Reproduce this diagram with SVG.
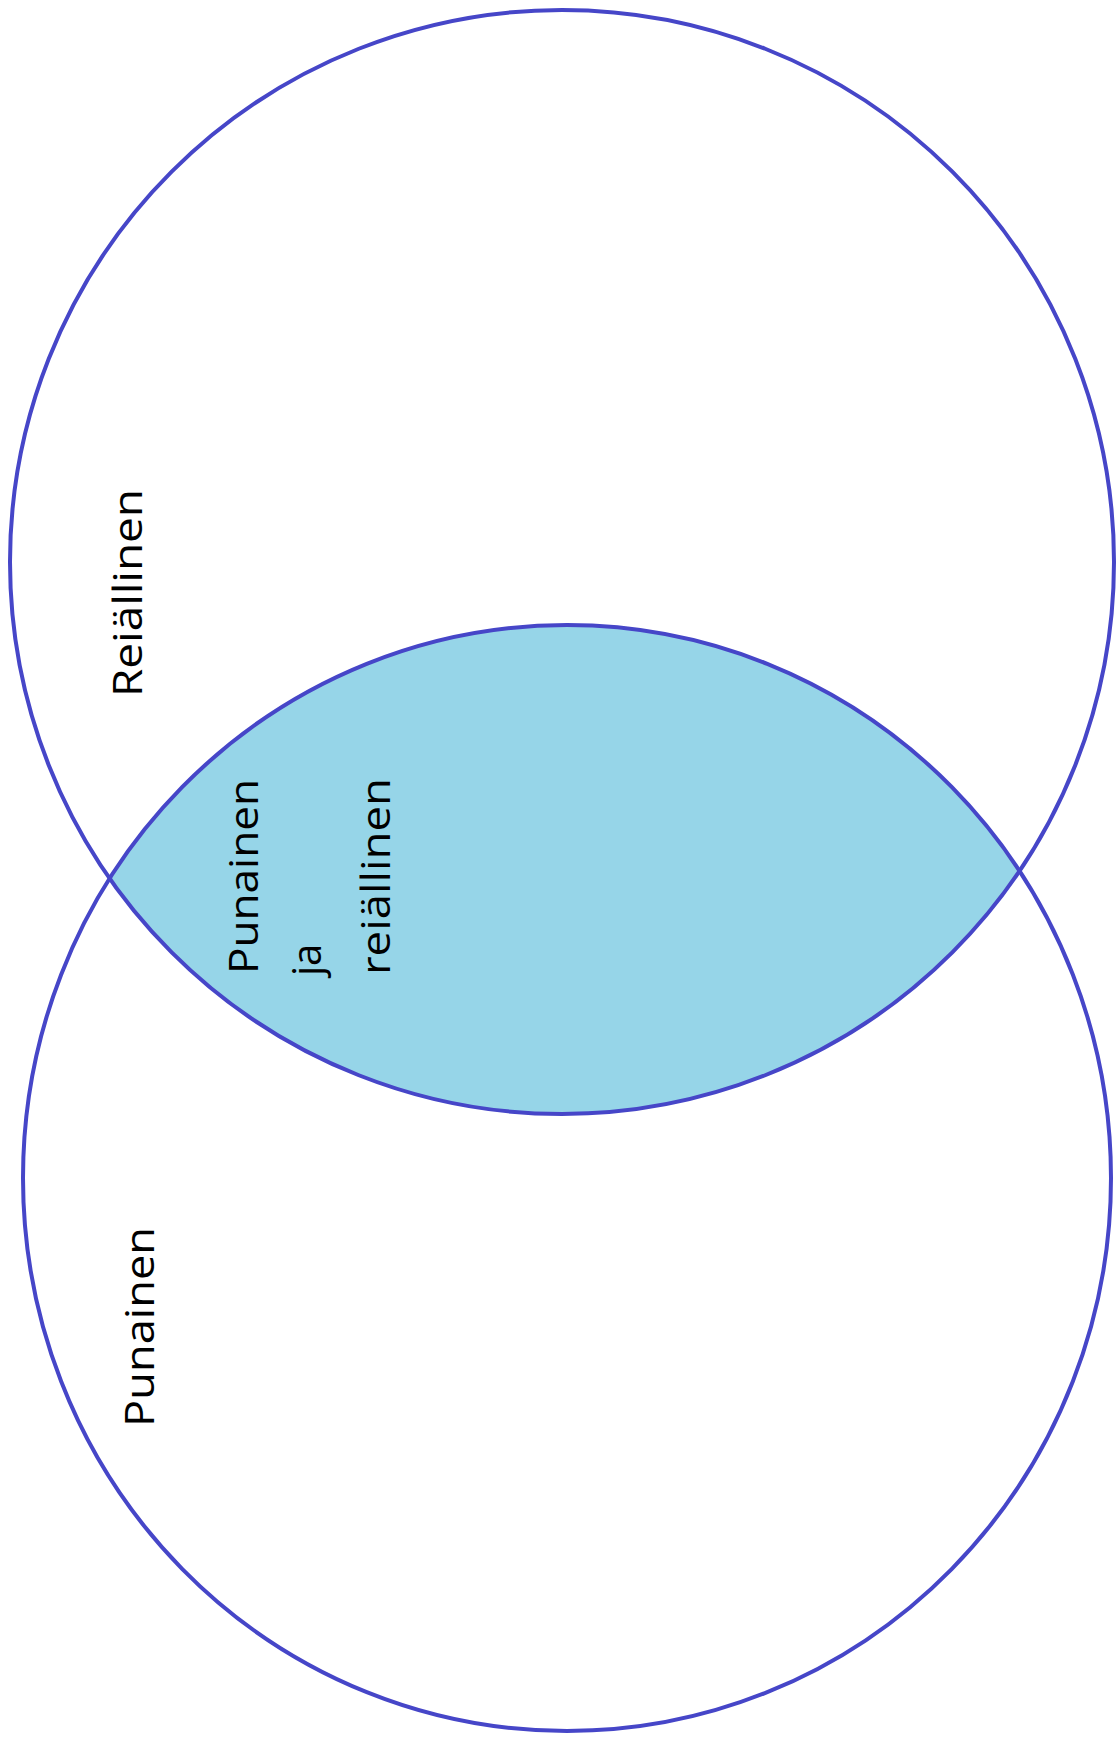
<svg xmlns="http://www.w3.org/2000/svg" width="1116" height="1742" viewBox="0 0 1116 1742">
<style>
.c{fill:none;stroke:#4646c8;stroke-width:4}
.t{font-family:"Open Sans","Liberation Sans",sans-serif;font-size:40px;fill:#000}
</style>
<defs>
<clipPath id="topClip"><circle cx="562" cy="562" r="552"/></clipPath>
</defs>
<rect width="1116" height="1742" fill="#fff"/>
<g id="lens">
<ellipse cx="567" cy="1178" rx="544" ry="553" fill="#96d5e8" clip-path="url(#topClip)"/>
</g>
<g id="circle-top">
<circle class="c" cx="562" cy="562" r="552"/>
<text class="t" transform="translate(142,697) rotate(-90)" textLength="208" lengthAdjust="spacingAndGlyphs">Reiällinen</text>
</g>
<g id="circle-bottom">
<ellipse class="c" cx="567" cy="1178" rx="544" ry="553"/>
<text class="t" transform="translate(154,1427) rotate(-90)" textLength="200" lengthAdjust="spacingAndGlyphs">Punainen</text>
</g>
<g id="intersection-label">
<text class="t" transform="translate(258,974) rotate(-90)" textLength="195" lengthAdjust="spacingAndGlyphs">Punainen</text>
<text class="t" transform="translate(321,976) rotate(-90)">ja</text>
<text class="t" transform="translate(390,975) rotate(-90)" textLength="197" lengthAdjust="spacingAndGlyphs">reiällinen</text>
</g>
<g id="connectors"></g>
</svg>
